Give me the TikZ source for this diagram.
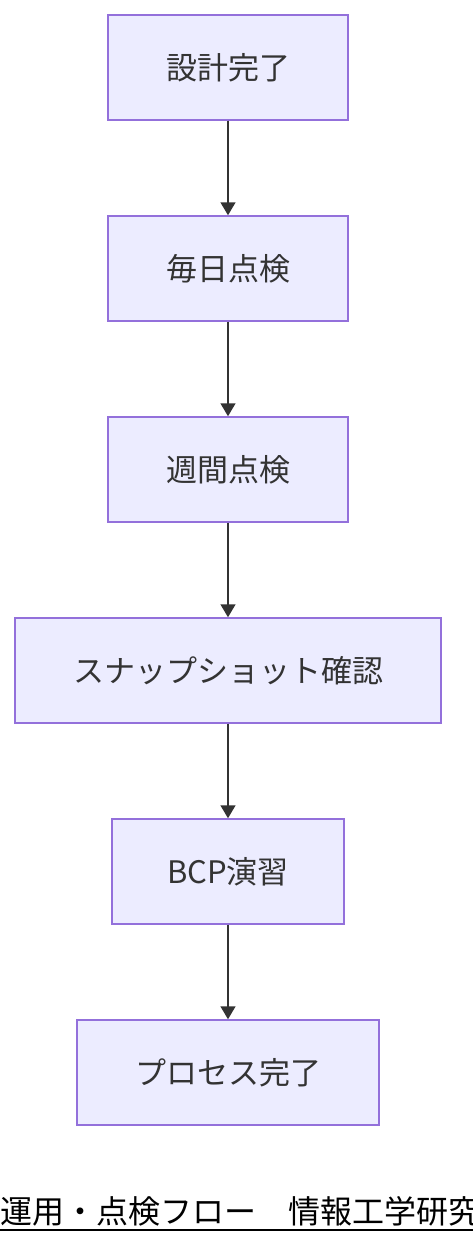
\documentclass[tikz,border=0pt]{standalone}
\usepackage{fontspec}
\setmainfont{Noto Sans CJK JP}
\usetikzlibrary{arrows.meta}

\definecolor{boxfill}{HTML}{ECECFF}
\definecolor{boxline}{HTML}{9370DB}
\definecolor{ink}{HTML}{333333}

\tikzset{
  stepbox/.style={draw=boxline, fill=boxfill, line width=1.5pt, minimum height=105pt, text=ink, font=\fontsize{31}{36}\selectfont},
  flow/.style={->, >={Triangle[length=13pt, width=15pt]}, draw=ink, fill=ink, line width=1.5pt}
}

\begin{document}
\begin{tikzpicture}[x=1pt, y=-1pt]
\useasboundingbox (0,0) rectangle (472,1244);

% the steps, top to bottom
\node[stepbox, minimum width=240pt] (design) at (228, 67.5) {設計完了};
\node[stepbox, minimum width=240pt] (daily) at (228, 268.5) {毎日点検};
\node[stepbox, minimum width=240pt] (weekly) at (228, 469.5) {週間点検};
\node[stepbox, minimum width=426pt] (snapshot) at (228, 670.5) {スナップショット確認};
\node[stepbox, minimum width=232pt] (bcp) at (228, 871.5) {BCP演習};
\node[stepbox, minimum width=302pt] (done) at (228, 1072.5) {プロセス完了};

\draw[flow] (design) -- (daily);
\draw[flow] (daily) -- (weekly);
\draw[flow] (weekly) -- (snapshot);
\draw[flow] (snapshot) -- (bcp);
\draw[flow] (bcp) -- (done);

% footer
\node[anchor=base west, inner sep=0pt, font=\fontsize{32}{36}\selectfont] (footer) at (0, 1223) {運用・点検フロー　情報工学研究};
\draw[line width=1.8pt] (0, 1230) -- (footer.east |- 0, 1230);

\end{tikzpicture}
\end{document}
